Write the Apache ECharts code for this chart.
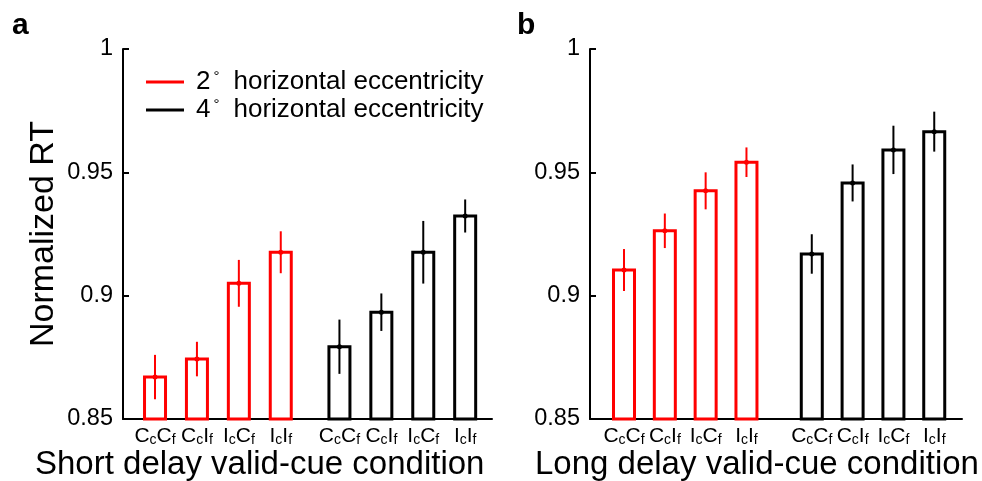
<!DOCTYPE html>
<html>
<head>
<meta charset="utf-8">
<script src="https://cdn.jsdelivr.net/npm/echarts@6/dist/echarts.min.js"></script>
<style>
  html, body { margin: 0; padding: 0; background: #fff; }
  #chart { width: 982px; height: 481px; }
</style>
</head>
<body>
<div id="chart"></div>
<script>
// condition labels: upper case letter followed by its subscript
const categories = ['CcCf', 'CcIf', 'IcCf', 'IcIf']
const eccentricities = [2, 4]

// panel a, short delay
const shortRed = [0.867, 0.8743, 0.905, 0.9176]
const shortRedErr = [0.009, 0.007, 0.0095, 0.0085]
const shortBlack = [0.8793, 0.8933, 0.9176, 0.9323]
const shortBlackErr = [0.011, 0.0076, 0.0127, 0.0067]

// panel b, long delay
const longRed = [0.9104, 0.9263, 0.9425, 0.9541]
const longRedErr = [0.0085, 0.007, 0.0075, 0.006]
const longBlack = [0.9169, 0.9457, 0.9591, 0.9665]
const longBlackErr = [0.008, 0.0075, 0.0098, 0.0081]

const yMin = 0.85
const yMax = 1
const yStep = 0.05

const FONT = '"Liberation Sans", Arial, sans-serif'
const colors = ['#ff0000', '#000000']
const names = eccentricities.map((d) => d + '° horizontal eccentricity')

const panels = [
  { title: 'Short delay valid-cue condition', letter: 'a', letterLeft: 7, titleLeft: 30,
    left: 123, width: 369, gap: 0.4, min: 0.236, max: 9.04,
    groups: [[shortRed, shortRedErr], [shortBlack, shortBlackErr]] },
  { title: 'Long delay valid-cue condition', letter: 'b', letterLeft: 512, titleLeft: 530,
    left: 590, width: 372, gap: 0.6, min: 0.167, max: 9.28,
    groups: [[longRed, longRedErr], [longBlack, longBlackErr]] },
]

const slotOf = (g, i, gap) => 1 + i + g * (categories.length + gap)

const labelText = (cat) =>
  cat.split('').map((ch, k) => (k % 2 === 0 ? '{big|' + ch + '}' : '{sub|' + ch + '}')).join('')

const renderBar = (color) => (params, api) => {
  const x = api.value(0)
  const v = api.value(1)
  const e = api.value(2)
  const top = api.coord([x, v])
  const base = api.coord([x, yMin])
  const hi = api.coord([x, v + e])
  const lo = api.coord([x, v - e])
  const w = 21
  return {
    type: 'group',
    children: [
      {
        type: 'rect',
        shape: { x: top[0] - w / 2, y: top[1], width: w, height: base[1] - top[1] },
        style: { fill: '#fff', stroke: color, lineWidth: 3 },
      },
      {
        type: 'line',
        shape: { x1: hi[0], y1: hi[1], x2: lo[0], y2: lo[1] },
        style: { stroke: color, lineWidth: 2 },
      },
      {
        type: 'circle',
        shape: { cx: top[0], cy: top[1], r: 2.5 },
        style: { fill: color },
      },
    ],
  }
}

const grids = []
const xAxes = []
const yAxes = []
const series = []
const titles = []

panels.forEach((p, pi) => {
  grids.push({ left: p.left, top: 49, width: p.width, height: 370 })
  const slots = []
  p.groups.forEach((grp, g) => categories.forEach((c, i) => slots.push(slotOf(g, i, p.gap))))
  xAxes.push({
    gridIndex: pi,
    type: 'value',
    min: p.min,
    max: p.max,
    splitLine: { show: false },
    axisTick: { show: false },
    axisLine: { show: true, onZero: false, lineStyle: { color: '#000', width: 2 } },
    axisLabel: {
      customValues: slots,
      margin: 6,
      color: '#000',
      formatter: (val) => {
        const idx = slots.findIndex((s) => Math.abs(s - val) < 1e-6)
        return idx < 0 ? '' : labelText(categories[idx % categories.length])
      },
      rich: {
        big: { fontFamily: FONT, fontSize: 21, color: '#000', lineHeight: 22, verticalAlign: 'bottom' },
        sub: { fontFamily: FONT, fontSize: 14, color: '#000', lineHeight: 22, verticalAlign: 'bottom' },
      },
    },
  })
  yAxes.push({
    gridIndex: pi,
    type: 'value',
    min: yMin,
    max: yMax,
    interval: yStep,
    splitLine: { show: false },
    axisLine: { show: true, lineStyle: { color: '#000', width: 2 } },
    axisTick: { show: true, inside: true, length: 6, lineStyle: { color: '#000', width: 2 } },
    axisLabel: { fontFamily: FONT, fontSize: 23.5, color: '#000', margin: 10 },
  })
  p.groups.forEach(([vals, errs], g) => {
    series.push({
      name: names[g],
      type: 'custom',
      xAxisIndex: pi,
      yAxisIndex: pi,
      itemStyle: { color: colors[g] },
      renderItem: renderBar(colors[g]),
      encode: { x: 0, y: 1 },
      data: vals.map((v, i) => [slotOf(g, i, p.gap), v, errs[i]]),
      silent: true,
    })
  })
  titles.push({
    text: p.letter,
    left: p.letterLeft,
    top: 6,
    textStyle: { fontFamily: FONT, fontSize: 30, fontWeight: 'bold', color: '#000' },
  })
  titles.push({
    text: p.title,
    left: p.titleLeft,
    top: 443,
    textStyle: { fontFamily: FONT, fontSize: 33, fontWeight: 'normal', color: '#000' },
  })
})

const chart = echarts.init(document.getElementById('chart'), null, { renderer: 'canvas' })
chart.setOption({
  animation: false,
  backgroundColor: '#fff',
  title: titles,
  grid: grids,
  xAxis: xAxes,
  yAxis: yAxes.map((y, i) => (i === 0 ? {
    ...y,
    name: 'Normalized RT',
    nameLocation: 'middle',
    nameGap: 62,
    nameTextStyle: { fontFamily: FONT, fontSize: 34, color: '#000' },
  } : y)),
  legend: {
    data: names,
    orient: 'vertical',
    left: 141,
    top: 64,
    itemWidth: 38,
    itemHeight: 3,
    itemGap: 2,
    icon: 'rect',
    selectedMode: false,
    formatter: (name) => {
      const d = name.split('°')[0]
      return '{n|' + d + '}{deg|°}{t|horizontal eccentricity}'
    },
    textStyle: {
      rich: {
        n: { fontFamily: FONT, fontSize: 26, color: '#000', lineHeight: 26, verticalAlign: 'bottom', padding: [0, 0, 0, 7] },
        deg: { fontFamily: FONT, fontSize: 15, color: '#000', lineHeight: 26, verticalAlign: 'top', padding: [0, 14, 0, 3] },
        t: { fontFamily: FONT, fontSize: 26, color: '#000', lineHeight: 26, verticalAlign: 'bottom' },
      },
    },
  },
  series,
})
</script>
</body>
</html>
